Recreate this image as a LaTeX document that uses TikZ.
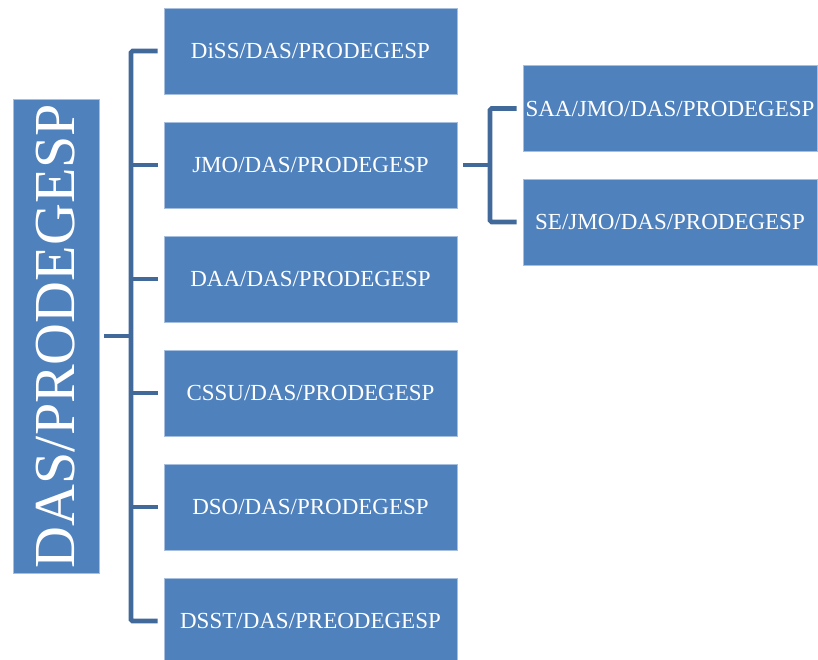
\documentclass[tikz,border=0pt]{standalone}
\usepackage{fontspec}
\setmainfont{Liberation Serif}
\begin{document}
\begin{tikzpicture}[x=1pt,y=-1pt,
  box/.style={draw=boxedge,line width=0.8pt,fill=boxblue,text=white,inner sep=0pt,
    minimum width=293pt,minimum height=86pt,font=\fontsize{23}{23}\selectfont},
  rootbox/.style={draw=boxedge,line width=0.8pt,fill=boxblue,text=white,inner sep=0pt,
    minimum width=86pt,minimum height=474pt},
  conn/.style={draw=connblue,line width=4.6pt,rounded corners=1.5pt}]
\definecolor{boxblue}{HTML}{4F81BD}
\definecolor{boxedge}{HTML}{A7BFDE}
\definecolor{connblue}{HTML}{41699A}
\useasboundingbox (0,0) rectangle (818,659);
\node[rootbox] (root) at (56,336) {};
\node[rotate=90,text=white,font=\fontsize{58}{58}\selectfont,inner sep=0pt] (roottext) at (root.center) {DAS/PRODEGESP};
\node[box] (c1) at (310.5,51) {DiSS/DAS/PRODEGESP};
\node[box] (c2) at (310.5,165) {JMO/DAS/PRODEGESP};
\node[box] (c3) at (310.5,279) {DAA/DAS/PRODEGESP};
\node[box] (c4) at (310.5,393) {CSSU/DAS/PRODEGESP};
\node[box] (c5) at (310.5,507) {DSO/DAS/PRODEGESP};
\node[box] (c6) at (310.5,621) {DSST/DAS/PREODEGESP};
\node[box,minimum width=294pt] (s1) at (670,108.5) {SAA/JMO/DAS/PRODEGESP};
\node[box,minimum width=294pt] (s2) at (670,222) {SE/JMO/DAS/PRODEGESP};
\coordinate (bus) at (131,0);
\coordinate (sbus) at (490,0);
\draw[conn] ([xshift=-6pt]c1.west) -| (bus |- c6.west) -- ([xshift=-6pt]c6.west);
\foreach \c in {c2,c3,c4,c5} \draw[conn] ([xshift=-6pt]\c.west) -- (\c.west -| bus);
\draw[conn] ([xshift=5pt]root.east) -- (root.east -| bus);
\draw[conn] ([xshift=-6pt]s1.west) -| (sbus |- s2.west) -- ([xshift=-6pt]s2.west);
\draw[conn] ([xshift=6pt]c2.east) -- (c2.east -| sbus);
\end{tikzpicture}
\end{document}
